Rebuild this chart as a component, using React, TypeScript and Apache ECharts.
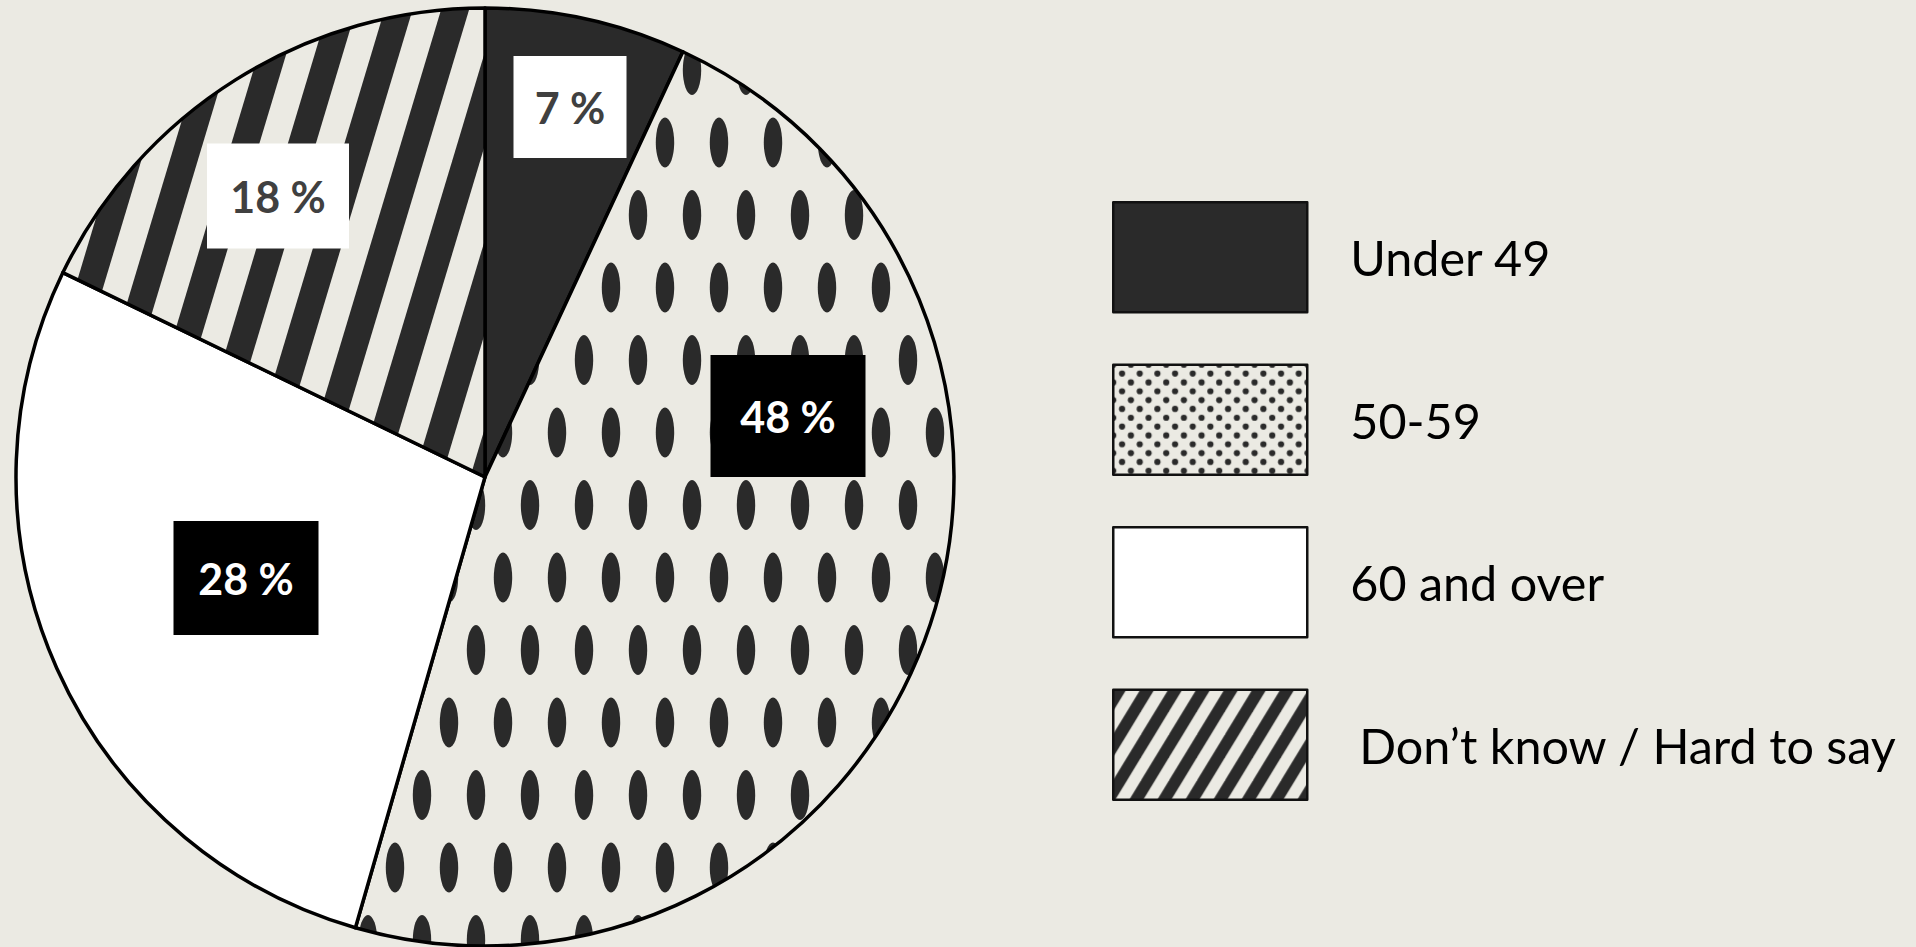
import React, { useEffect, useRef } from "react";
import * as echarts from "echarts";

// ---- data ----
const CATEGORIES = ["Under 49", "50-59", "60 and over", "Don’t know / Hard to say"];
const VALUES = [7, 48, 28, 18];
const LABEL_TEXT = ["7 %", "48 %", "28 %", "18 %"];

// ---- layout (label boxes: centerX, centerY, width, height) ----
const LABEL_BOX = [
  [570, 107, 113, 102],
  [788, 416, 155, 122],
  [246, 578, 145, 114],
  [278, 196, 142, 105],
];
const LABEL_DARK_BOX = [false, true, true, false];

const BG = "#ebeae3";
const DARK = "#2a2a2a";
const FONT = "Lato";

function makeTile(w: number, h: number, draw: (ctx: CanvasRenderingContext2D) => void) {
  const c = document.createElement("canvas");
  c.width = w;
  c.height = h;
  const ctx = c.getContext("2d")!;
  ctx.fillStyle = BG;
  ctx.fillRect(0, 0, w, h);
  ctx.fillStyle = DARK;
  draw(ctx);
  return { image: c.toDataURL(), repeat: "repeat", imageWidth: w, imageHeight: h } as any;
}

function ellipsesWrapped(ctx: CanvasRenderingContext2D, w: number, h: number, pts: number[][], rx: number, ry: number) {
  for (const [cx, cy] of pts) {
    for (let i = -1; i <= 1; i++) {
      for (let j = -1; j <= 1; j++) {
        ctx.beginPath();
        ctx.ellipse(cx + i * w, cy + j * h, rx, ry, 0, 0, Math.PI * 2);
        ctx.fill();
      }
    }
  }
}

// stripes whose centre line shifts left by `period` over the tile height
function stripes(ctx: CanvasRenderingContext2D, w: number, h: number, period: number, x0: number, half: number) {
  const n = Math.ceil(w / period) + 3;
  for (let k = -3; k <= n; k++) {
    const cx = x0 + k * period;
    ctx.beginPath();
    ctx.moveTo(cx - half, 0);
    ctx.lineTo(cx + half, 0);
    ctx.lineTo(cx + half - period, h);
    ctx.lineTo(cx - half - period, h);
    ctx.closePath();
    ctx.fill();
  }
}

export default function App() {
  const ref = useRef<HTMLDivElement>(null);

  useEffect(() => {
    if (!ref.current) return;
    const chart = echarts.init(ref.current, undefined, { renderer: "svg" });

    const ovalPattern = makeTile(54, 145, (ctx) =>
      ellipsesWrapped(ctx, 54, 145, [[44, 70], [17, 142.5]], 9.2, 25)
    );
    const stripePattern = makeTile(113, 188, (ctx) => stripes(ctx, 113, 188, 56.5, 6, 14));
    const dotPattern = makeTile(53, 53, (ctx) => {
      const s = 53 / 3;
      const pts: number[][] = [];
      for (let r = 0; r < 6; r++) {
        for (let c = 0; c < 3; c++) {
          pts.push([c * s + (r % 2 ? s / 2 : 0), r * (s / 2)]);
        }
      }
      ellipsesWrapped(ctx, 53, 53, pts, 3.1, 3.1);
    });
    const legendStripe = makeTile(28, 46, (ctx) => stripes(ctx, 28, 46, 28, 6, 7));

    const sliceColors = [DARK, ovalPattern, "#ffffff", stripePattern];
    const legendColors = [DARK, dotPattern, "#ffffff", legendStripe];

    const option: any = {
      animation: false,
      backgroundColor: BG,
      legend: {
        orient: "vertical",
        left: 1107,
        top: 196,
        itemWidth: 194,
        itemHeight: 110,
        itemGap: 50,
        icon: "rect",
        selectedMode: false,
        itemStyle: { borderColor: "#111", borderWidth: 2.5 },
        textStyle: {
          fontFamily: FONT,
          fontSize: 48.5,
          color: "#000",
          padding: [0, 0, 0, 38],
        },
        data: CATEGORIES.map((name, i) => ({
          name,
          itemStyle: { color: legendColors[i] },
          textStyle: i === 3 ? { padding: [0, 0, 0, 47] } : undefined,
        })),
      },
      series: [
        {
          type: "pie",
          center: [485, 477],
          radius: 469,
          startAngle: 90,
          clockwise: true,
          silent: true,
          emphasis: { disabled: true },
          itemStyle: { borderColor: "#000", borderWidth: 3.5 },
          labelLine: { show: false },
          labelLayout: (p: any) => {
            const b = LABEL_BOX[p.dataIndex];
            return { x: b[0], y: b[1], align: "center", verticalAlign: "middle" };
          },
          data: CATEGORIES.map((name, i) => {
            const b = LABEL_BOX[i];
            return {
              name,
              value: VALUES[i],
              itemStyle: { color: sliceColors[i] },
              label: {
                show: true,
                position: "inside",
                formatter: LABEL_TEXT[i],
                width: b[2],
                height: b[3],
                lineHeight: b[3],
                align: "center",
                verticalAlign: "middle",
                backgroundColor: LABEL_DARK_BOX[i] ? "#000" : "#fff",
                color: LABEL_DARK_BOX[i] ? "#fff" : "#404040",
                fontFamily: FONT,
                fontWeight: "bold",
                fontSize: 43,
              },
            };
          }),
        },
      ],
    };

    chart.setOption(option);
    return () => chart.dispose();
  }, []);

  return (
    <div
      ref={ref}
      style={{ position: "fixed", left: 0, top: 0, width: "1916px", height: "947px" }}
    />
  );
}
